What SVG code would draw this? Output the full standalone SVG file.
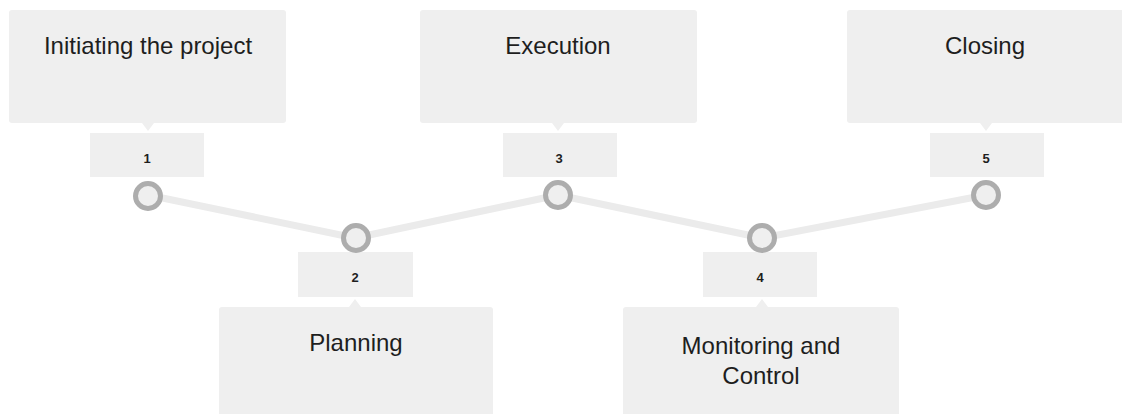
<svg xmlns="http://www.w3.org/2000/svg" width="1122" height="414" viewBox="0 0 1122 414">
<style>
.box{fill:#efefef}
.num{fill:#efefef}
.dot{fill:#efefef;stroke:#adadad;stroke-width:5}
.t{font-family:"Liberation Sans",Arial,sans-serif;font-size:24px;fill:#1e1e1e;text-anchor:middle}
.n{font-family:"Liberation Sans",Arial,sans-serif;font-size:13px;font-weight:bold;fill:#1e1e1e;text-anchor:middle}
.link{fill:none;stroke:#ebebeb;stroke-width:7;stroke-linejoin:round}
</style>
<rect width="1122" height="414" fill="#ffffff"/>
<g id="connectors">
<polyline class="link" points="148,195 355,238 558,195 762,238 986,195"/>
</g>
<g id="node1">
<rect class="box" x="9" y="10" width="277" height="113" rx="3"/>
<polygon class="box" points="142,123 154,123 148,131"/>
<text class="t" x="148" y="54">Initiating the project</text>
<rect class="num" x="90" y="133" width="114" height="44"/>
<text class="n" x="147" y="163">1</text>
<circle class="dot" cx="148" cy="196" r="12.5"/>
</g>
<g id="node2">
<rect class="box" x="219" y="307" width="274" height="112" rx="3"/>
<polygon class="box" points="349,307 361,307 355,299"/>
<text class="t" x="356" y="351">Planning</text>
<rect class="num" x="298" y="252" width="115" height="45"/>
<text class="n" x="355" y="282">2</text>
<circle class="dot" cx="356" cy="238" r="12.5"/>
</g>
<g id="node3">
<rect class="box" x="420" y="10" width="277" height="113" rx="3"/>
<polygon class="box" points="552,123 564,123 558,131"/>
<text class="t" x="558" y="54">Execution</text>
<rect class="num" x="503" y="133" width="114" height="44"/>
<text class="n" x="559" y="163">3</text>
<circle class="dot" cx="558" cy="195" r="12.5"/>
</g>
<g id="node4">
<rect class="box" x="623" y="307" width="276" height="112" rx="3"/>
<polygon class="box" points="756,307 768,307 762,299"/>
<text class="t" x="761" y="354">Monitoring and</text>
<text class="t" x="761" y="384">Control</text>
<rect class="num" x="703" y="252" width="114" height="45"/>
<text class="n" x="760" y="282">4</text>
<circle class="dot" cx="762" cy="238" r="12.5"/>
</g>
<g id="node5">
<rect class="box" x="847" y="10" width="280" height="113" rx="3"/>
<polygon class="box" points="980,123 992,123 986,131"/>
<text class="t" x="985" y="54">Closing</text>
<rect class="num" x="930" y="133" width="114" height="44"/>
<text class="n" x="986" y="163">5</text>
<circle class="dot" cx="986" cy="195" r="12.5"/>
</g>
</svg>
